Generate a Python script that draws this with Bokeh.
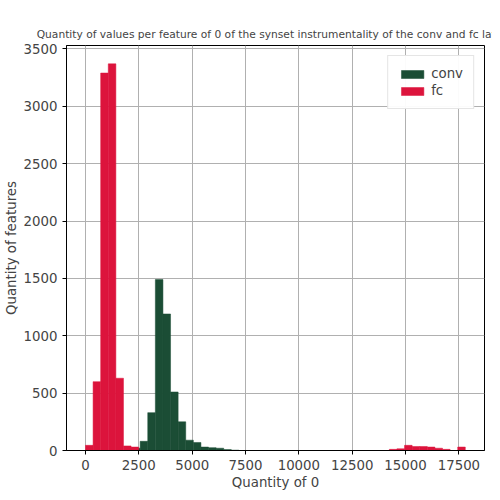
from bokeh.plotting import figure
from bokeh.models import ColumnDataSource, Legend, LegendItem
from bokeh.embed import file_html
from bokeh.resources import INLINE

BIN = 356.0

# conv histogram
conv_start = 1850.0
conv_counts = [15, 20, 80, 330, 1490, 1190, 510, 250, 90, 70, 30, 25, 20, 8, 3]

# fc histogram (50 bins from 0 to 17800)
fc_start = 0.0
fc_counts = [45, 600, 3290, 3370, 630, 40, 30] + [0] * 33 + [10, 15, 45, 35, 35, 30, 20, 10, 0, 30]

def edges(start, counts):
    left = [start + i * BIN for i in range(len(counts))]
    right = [l + BIN for l in left]
    return dict(left=left, right=right, top=counts, bottom=[0] * len(counts))

p = figure(width=492, height=492, output_backend="svg", toolbar_location=None,
           x_range=(-890, 18700), y_range=(0, 3530),
           title="Quantity of values per feature of 0 of the synset instrumentality of the conv and fc layers",
           x_axis_label="Quantity of 0", y_axis_label="Quantity of features",
           min_border_left=40, min_border_right=8, min_border_top=45, min_border_bottom=30)
p.title.align = "center"
p.title.text_font = "DejaVu Sans"
p.title.text_font_size = "8pt"
p.title.text_font_style = "normal"

r1 = p.quad(source=ColumnDataSource(edges(conv_start, conv_counts)), left="left", right="right",
            top="top", bottom="bottom", fill_color="#1b4d35", line_color="#1b4d35", line_width=0.5)
r2 = p.quad(source=ColumnDataSource(edges(fc_start, fc_counts)), left="left", right="right",
            top="top", bottom="bottom", fill_color="#dc143c", line_color="#dc143c", line_width=0.5)

p.xaxis.ticker = [0, 2500, 5000, 7500, 10000, 12500, 15000, 17500]
p.yaxis.ticker = [0, 500, 1000, 1500, 2000, 2500, 3000, 3500]
for ax in (p.xaxis, p.yaxis):
    ax.major_label_text_font = "DejaVu Sans"
    ax.major_label_text_font_size = "10pt"
    ax.axis_label_text_font = "DejaVu Sans"
    ax.axis_label_text_font_size = "10pt"
    ax.axis_label_text_font_style = "normal"
    ax.minor_tick_line_color = None
    ax.major_tick_in = 0
    ax.major_tick_out = 4
p.yaxis.axis_label_standoff = 2
p.xaxis.axis_label_standoff = 2
p.grid.grid_line_color = "#b0b0b0"
p.grid.grid_line_alpha = 1
p.outline_line_color = "black"

legend = Legend(items=[LegendItem(label="conv", renderers=[r1]), LegendItem(label="fc", renderers=[r2])],
                location="top_right", label_text_font="DejaVu Sans", label_text_font_size="10pt",
                border_line_color="#cccccc", glyph_width=28, glyph_height=10, spacing=2)
p.add_layout(legend)

open("out.html", "w").write(file_html(p, INLINE))
